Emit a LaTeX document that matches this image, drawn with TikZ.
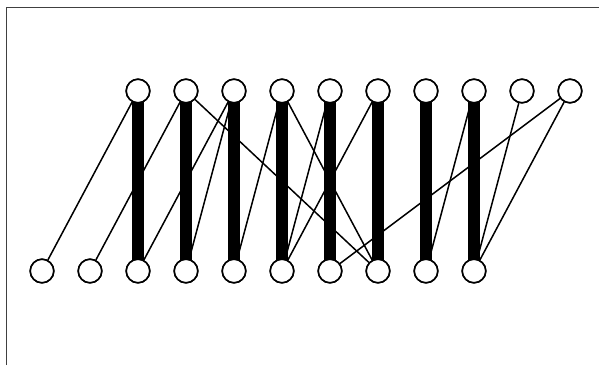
\documentclass[tikz,border=0pt]{standalone}
\begin{document}
\begin{tikzpicture}[x=1pt,y=-1pt,
  vtx/.style={circle,draw=black,fill=white,line width=1.6pt,minimum size=23.5pt,inner sep=0pt},
  thin/.style={draw=black,line width=1.5pt},
  thick/.style={draw=black,line width=11.5pt},
  frame/.style={draw=black!75,line width=1pt}]
\useasboundingbox (0,0) rectangle (599,365);
\coordinate (fa) at (6.5,365);
\coordinate (fb) at (6.5,7.5);
\coordinate (fc) at (599,7.5);
\draw[frame] (fa) -- (fb) -- (fc);
\foreach \i in {0,...,9} {
  \coordinate (tc\i) at ({138+48*\i},91);
  \coordinate (bc\i) at ({42+48*\i},271);
}
% thick edges (centre to centre, covered by circles)
\foreach \i/\j in {0/2,1/3,2/4,3/5,4/6,5/7,6/8,7/9} {
  \draw[thick] (tc\i) -- (bc\j);
}
% nodes
\foreach \i in {0,...,9} {
  \node[vtx] (t\i) at (tc\i) {};
  \node[vtx] (b\i) at (bc\i) {};
}
% thin edges
\foreach \i/\j in {0/0,1/1,1/7,2/2,2/3,3/4,3/7,4/5,5/5,7/8,8/9,9/6,9/9} {
  \draw[thin] (t\i) -- (b\j);
}
% redraw nodes on top so thick bars end at circle edge
\foreach \i in {0,...,9} {
  \node[vtx] at (tc\i) {};
  \node[vtx] at (bc\i) {};
}
\end{tikzpicture}
\end{document}
